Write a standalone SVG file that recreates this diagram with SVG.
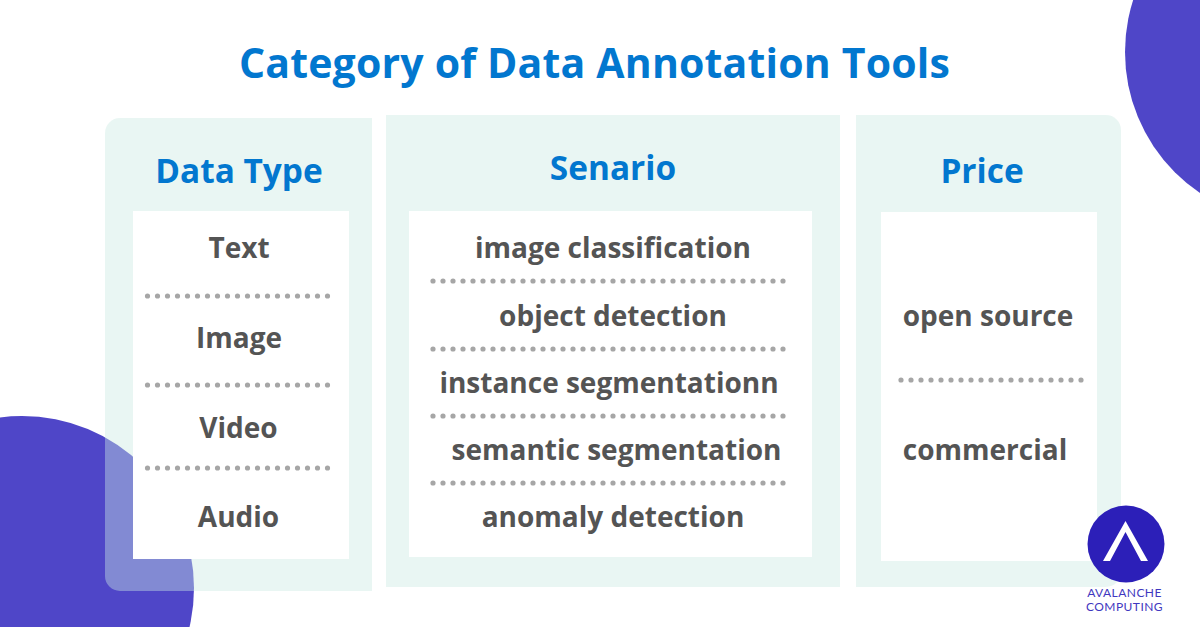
<svg xmlns="http://www.w3.org/2000/svg" width="1200" height="627" viewBox="0 0 1200 627">
<style>
text{font-family:"Open Sans","Noto Sans","DejaVu Sans",sans-serif;font-weight:700;text-anchor:middle;opacity:.999}
.h{fill:#0277cf;font-size:33.400px}
.t{fill:#545454;font-size:28px}
.panel{fill:#cbe9e3;fill-opacity:.42}
.card{fill:#fff}
.dots{stroke:#a6a6a6;stroke-width:5.2;stroke-linecap:round;stroke-dasharray:0 10;fill:none}
.blob{fill:#4f46c8}
.lg{font-family:"Lato",sans-serif;font-weight:400;font-size:12px;fill:#3f38c0;letter-spacing:.45px}
</style>
<rect width="1200" height="627" fill="#fff"/>
<circle class="blob" cx="22" cy="588" r="172"/>
<circle class="blob" cx="1295" cy="52" r="170"/>
<text x="594.500" y="78" style="fill:#0277cf;font-size:41px;letter-spacing:.18px">Category of Data Annotation Tools</text>
<g id="data-type">
<path class="panel" d="M120 118H372V591H120A15 15 0 0 1 105 576V133A15 15 0 0 1 120 118Z"/>
<rect class="card" x="133" y="211" width="216" height="348"/>
<text class="h" x="239" y="183">Data Type</text>
<text class="t" x="239" y="258">Text</text>
<text class="t" x="239" y="348">Image</text>
<text class="t" x="238.500" y="438">Video</text>
<text class="t" x="238.500" y="527">Audio</text>
<path class="dots" d="M147.500 296H330M147.500 385H330M147.500 468H330"/>
</g>
<g id="senario">
<rect class="panel" x="386" y="115" width="454" height="472"/>
<rect class="card" x="409" y="211" width="403" height="346"/>
<text class="h" x="613" y="180">Senario</text>
<text class="t" x="613" y="258">image classification</text>
<text class="t" x="613" y="326">object detection</text>
<text class="t" x="609" y="393">instance segmentationn</text>
<text class="t" x="616.500" y="460">semantic segmentation</text>
<text class="t" x="613" y="527">anomaly detection</text>
<path class="dots" d="M433 281H786M433 349H786M433 416H786M433 483H786"/>
</g>
<g id="price">
<path class="panel" d="M856 115H1106A15 15 0 0 1 1121 130V572A15 15 0 0 1 1106 587H856Z"/>
<rect class="card" x="881" y="212" width="216" height="349"/>
<text class="h" x="982" y="183">Price</text>
<text class="t" x="988" y="326">open source</text>
<text class="t" x="985" y="460">commercial</text>
<path class="dots" d="M901 380H1084"/>
</g>
<g id="logo">
<circle cx="1126" cy="544" r="38.500" fill="#2c1fb8"/>
<path d="M1125.500 521L1148 561H1141L1125.500 532L1110 561H1103Z" fill="#fff"/>
<text class="lg" x="1124.500" y="597">AVALANCHE</text>
<text class="lg" x="1124.500" y="611">COMPUTING</text>
</g>
</svg>
